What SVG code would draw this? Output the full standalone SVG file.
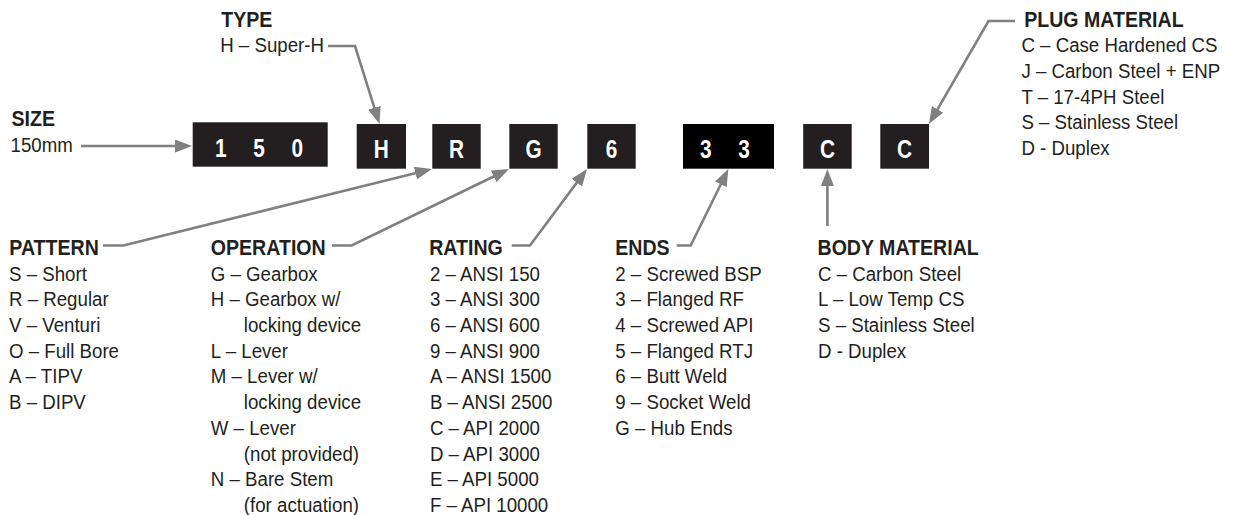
<svg xmlns="http://www.w3.org/2000/svg" width="1233" height="515" viewBox="0 0 1233 515">
<defs>
<style>
.bx{fill:#231f20}
.dg{font-family:"Liberation Sans",Arial,sans-serif;font-weight:bold;font-size:26px;fill:#fff;text-anchor:middle}
.h{font-family:"Liberation Sans",Arial,sans-serif;font-weight:bold;font-size:22.5px;fill:#231f20}
.t{font-family:"Liberation Sans",Arial,sans-serif;font-size:21px;fill:#231f20}
.cn{fill:none;stroke:#808080;stroke-width:2.6;stroke-linejoin:miter}
</style>
<marker id="ah" markerUnits="userSpaceOnUse" markerWidth="17" markerHeight="13" refX="9" refY="6.5" orient="auto">
<path d="M0,0 L17,6.5 L0,13 Z" fill="#808080"/>
</marker>
</defs>
<rect width="1233" height="515" fill="#fff"/>

<g id="connectors" class="cn" marker-end="url(#ah)">
<path d="M81,146 L184,146"/>
<path d="M328,46 L355,46 L377.1,116.4"/>
<path d="M103,245.5 L123.3,245.5 L424.2,170.9"/>
<path d="M332,245.5 L351.7,245.5 L501.8,172.5"/>
<path d="M511.7,245.5 L530,245.5 L582.2,175.4"/>
<path d="M676.7,245.5 L690.7,245.5 L724.8,176.2"/>
<path d="M827.4,226 L827.4,177"/>
<path d="M1015,21 L988.5,21 L933,117.1"/>
</g>

<g id="box-size">
<rect class="bx" x="192.7" y="122.3" width="135" height="44.4"/>
<text class="dg" transform="translate(220.7 156.7) scale(.8 1)">1</text>
<text class="dg" transform="translate(259 156.7) scale(.8 1)">5</text>
<text class="dg" transform="translate(297.3 156.7) scale(.8 1)">0</text>
</g>
<g id="box-type">
<rect class="bx" x="356.7" y="124" width="49.3" height="44.7"/>
<text class="dg" transform="translate(381.3 158.3) scale(.8 1)">H</text>
</g>
<g id="box-pattern">
<rect class="bx" x="432.3" y="124" width="48.4" height="44.7"/>
<text class="dg" transform="translate(456.5 158.3) scale(.8 1)">R</text>
</g>
<g id="box-operation">
<rect class="bx" x="509.3" y="124" width="48.4" height="44.7"/>
<text class="dg" transform="translate(533.5 158.3) scale(.8 1)">G</text>
</g>
<g id="box-rating">
<rect class="bx" x="587.3" y="124" width="48.4" height="44.7"/>
<text class="dg" transform="translate(611.5 158.3) scale(.8 1)">6</text>
</g>
<g id="box-ends">
<rect x="683" y="124" width="91" height="44.7" fill="#000"/>
<text class="dg" transform="translate(705.7 158.3) scale(.8 1)">3</text>
<text class="dg" transform="translate(744 158.3) scale(.8 1)">3</text>
</g>
<g id="box-body">
<rect class="bx" x="803.2" y="124" width="48.5" height="44.7"/>
<text class="dg" transform="translate(827.4 158.3) scale(.8 1)">C</text>
</g>
<g id="box-plug">
<rect class="bx" x="880.3" y="124" width="48.7" height="44.7"/>
<text class="dg" transform="translate(904.6 158.3) scale(.8 1)">C</text>
</g>

<g id="label-type">
<text class="h" transform="translate(221.3 26.7) scale(.87 1)">TYPE</text>
<text class="t" transform="translate(220.2 51.7) scale(.89 1)">H – Super-H</text>
</g>
<g id="label-size">
<text class="h" transform="translate(11.5 126) scale(.87 1)">SIZE</text>
<text class="t" transform="translate(10.5 151.7) scale(.89 1)">150mm</text>
</g>
<g id="label-plug">
<text class="h" transform="translate(1024.2 26.7) scale(.87 1)">PLUG MATERIAL</text>
<text class="t" transform="translate(1021.4 52.4) scale(.89 1)"><tspan x="0" y="0">C – Case Hardened CS</tspan><tspan x="0" y="25.7">J – Carbon Steel + ENP</tspan><tspan x="0" y="51.4">T – 17-4PH Steel</tspan><tspan x="0" y="77.1">S – Stainless Steel</tspan><tspan x="0" y="102.8">D - Duplex</tspan></text>
</g>
<g id="label-pattern">
<text class="h" transform="translate(9.3 255) scale(.87 1)">PATTERN</text>
<text class="t" transform="translate(9 280.7) scale(.89 1)"><tspan x="0" y="0">S – Short</tspan><tspan x="0" y="25.7">R – Regular</tspan><tspan x="0" y="51.4">V – Venturi</tspan><tspan x="0" y="77.1">O – Full Bore</tspan><tspan x="0" y="102.8">A – TIPV</tspan><tspan x="0" y="128.5">B – DIPV</tspan></text>
</g>
<g id="label-operation">
<text class="h" transform="translate(210.8 255) scale(.87 1)">OPERATION</text>
<text class="t" transform="translate(210.8 280.7) scale(.89 1)"><tspan x="0" y="0">G – Gearbox</tspan><tspan x="0" y="25.7">H – Gearbox w/</tspan><tspan x="37.1" y="51.4">locking device</tspan><tspan x="0" y="77.1">L – Lever</tspan><tspan x="0" y="102.8">M – Lever w/</tspan><tspan x="37.1" y="128.5">locking device</tspan><tspan x="0" y="154.2">W – Lever</tspan><tspan x="37.1" y="179.9">(not provided)</tspan><tspan x="0" y="205.6">N – Bare Stem</tspan><tspan x="37.1" y="231.3">(for actuation)</tspan></text>
</g>
<g id="label-rating">
<text class="h" transform="translate(429.2 255) scale(.87 1)">RATING</text>
<text class="t" transform="translate(429.9 280.7) scale(.89 1)"><tspan x="0" y="0">2 – ANSI 150</tspan><tspan x="0" y="25.7">3 – ANSI 300</tspan><tspan x="0" y="51.4">6 – ANSI 600</tspan><tspan x="0" y="77.1">9 – ANSI 900</tspan><tspan x="0" y="102.8">A – ANSI 1500</tspan><tspan x="0" y="128.5">B – ANSI 2500</tspan><tspan x="0" y="154.2">C – API 2000</tspan><tspan x="0" y="179.9">D – API 3000</tspan><tspan x="0" y="205.6">E – API 5000</tspan><tspan x="0" y="231.3">F – API 10000</tspan></text>
</g>
<g id="label-ends">
<text class="h" transform="translate(615.2 255) scale(.87 1)">ENDS</text>
<text class="t" transform="translate(615.3 280.7) scale(.89 1)"><tspan x="0" y="0">2 – Screwed BSP</tspan><tspan x="0" y="25.7">3 – Flanged RF</tspan><tspan x="0" y="51.4">4 – Screwed API</tspan><tspan x="0" y="77.1">5 – Flanged RTJ</tspan><tspan x="0" y="102.8">6 – Butt Weld</tspan><tspan x="0" y="128.5">9 – Socket Weld</tspan><tspan x="0" y="154.2">G – Hub Ends</tspan></text>
</g>
<g id="label-body">
<text class="h" transform="translate(817.5 255) scale(.87 1)">BODY MATERIAL</text>
<text class="t" transform="translate(818 280.7) scale(.89 1)"><tspan x="0" y="0">C – Carbon Steel</tspan><tspan x="0" y="25.7">L – Low Temp CS</tspan><tspan x="0" y="51.4">S – Stainless Steel</tspan><tspan x="0" y="77.1">D - Duplex</tspan></text>
</g>
</svg>
